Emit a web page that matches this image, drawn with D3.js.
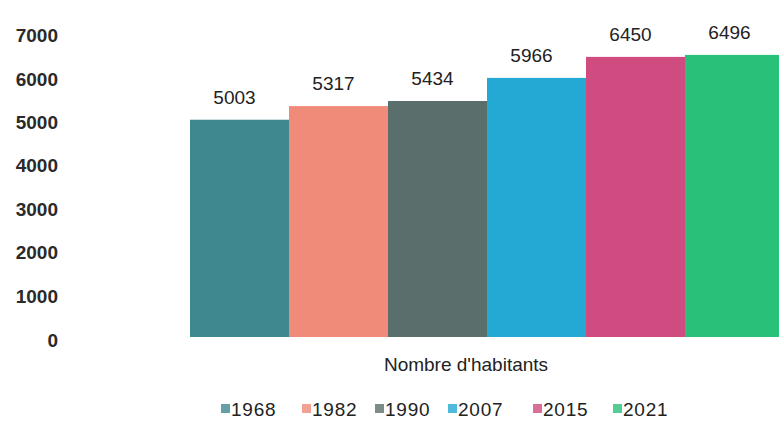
<!DOCTYPE html>
<html>
<head>
<meta charset="utf-8">
<script src="https://cdn.jsdelivr.net/npm/d3@7"></script>
<style>
  body { margin: 0; background: #fff; }
  svg { display: block; font-family: "Liberation Sans", Arial, sans-serif; }
</style>
</head>
<body>
<div id="chart"></div>
<script>
const years = ['1968', '1982', '1990', '2007', '2015', '2021']
const habitants = [5003, 5317, 5434, 5966, 6450, 6496]
const barColors = ['#3f8890', '#f08a79', '#5a6f6c', '#24a9d4', '#cf4b80', '#29c07a']
const yTicks = [0, 1000, 2000, 3000, 4000, 5000, 6000, 7000]

const width = 779, height = 421

const svg = d3.select('#chart').append('svg')
    .attr('width', width)
    .attr('height', height)

const x = d3.scaleBand().domain(years).range([190, 784]).padding(0)
const y = d3.scaleLinear().domain([0, 7000]).range([337, 33])

// y axis labels only, no line
const yAxis = svg.append('g')
    .attr('transform', 'translate(58,0)')
    .call(d3.axisLeft(y).tickValues(yTicks).tickSize(0).tickPadding(0).tickFormat(d3.format('d')))
yAxis.select('.domain').remove()
yAxis.selectAll('text')
    .attr('font-size', '19px')
    .attr('font-weight', 'bold')
    .attr('fill', '#2a2a2a')
    .attr('dy', '0.35em')
    .attr('transform', d => `translate(0,${d === 0 ? 3 : 2})`)

const bars = svg.append('g')
bars.selectAll('rect').data(years).enter()
    .append('rect')
    .attr('x', d => x(d))
    .attr('y', (d, i) => y(habitants[i]))
    .attr('width', x.bandwidth())
    .attr('height', (d, i) => y(0) - y(habitants[i]))
    .attr('fill', (d, i) => barColors[i])

bars.selectAll('text').data(years).enter()
    .append('text')
    .attr('x', d => x(d) + x.bandwidth() / 2 - 5)
    .attr('y', (d, i) => y(habitants[i]) - 16)
    .attr('text-anchor', 'middle')
    .attr('font-size', '19px')
    .attr('fill', '#222')
    .text((d, i) => habitants[i])

svg.append('text')
    .attr('x', 466)
    .attr('y', 371)
    .attr('text-anchor', 'middle')
    .attr('font-size', '19px')
    .attr('fill', '#222')
    .text("Nombre d'habitants")

// legend
const legendX = [221, 302, 375, 448, 533, 613]
const legend = svg.append('g').selectAll('g').data(years).enter()
    .append('g')
    .attr('transform', (d, i) => `translate(${legendX[i]},416)`)
legend.append('rect')
    .attr('x', 0)
    .attr('y', -12)
    .attr('width', 9)
    .attr('height', 9)
    .attr('fill', (d, i) => barColors[i])
    .attr('opacity', 0.8)
legend.append('text')
    .attr('x', 10)
    .attr('y', 0)
    .attr('font-size', '19px')
    .attr('letter-spacing', '0.8px')
    .attr('fill', '#222')
    .text(d => d)
</script>
</body>
</html>
